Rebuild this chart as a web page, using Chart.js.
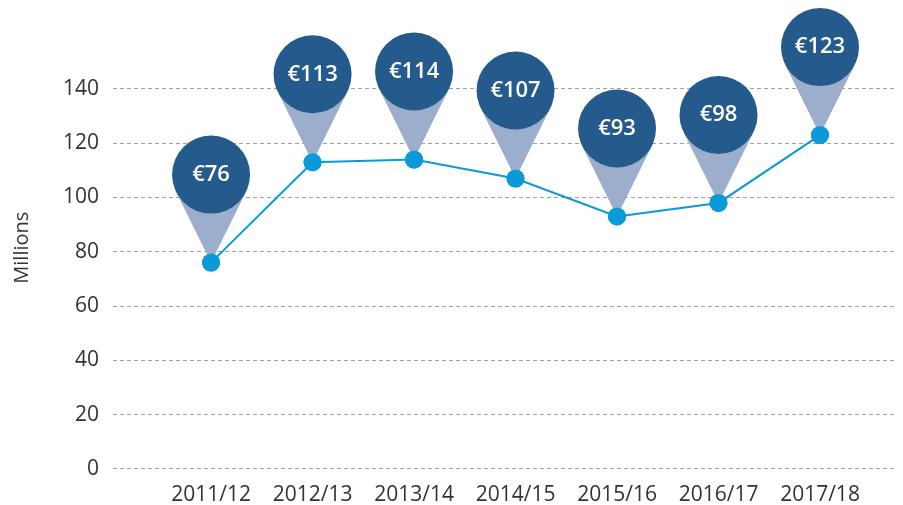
<!DOCTYPE html>
<html>
<head>
<meta charset="utf-8">
<script src="https://cdn.jsdelivr.net/npm/chart.js@4/dist/chart.umd.min.js"></script>
<style>
  html,body{margin:0;padding:0;background:#fff}
  .wrap{width:903px;height:505px;position:relative}
</style>
</head>
<body>
<div class="wrap"><canvas id="c1" role="img" aria-label="Values in millions, 2011/12 to 2017/18"></canvas></div>
<script>
const YEARS = ['2011/12','2012/13','2013/14','2014/15','2015/16','2016/17','2017/18']
const VALUES = [76,113,114,107,93,98,123]
const Y_TICKS = [0,20,40,60,80,100,120,140]

const lineC='#0a9ad9', bubC='#245a8c', coneC='#9caecb', tc='#333333'
const font="'Open Sans','Noto Sans',sans-serif"

// bubble with cone pointing to each point
const bubbles = {
  id:'bubbles',
  afterDatasetsDraw(chart){
    const {ctx} = chart
    const x = chart.scales.x, y = chart.scales.y
    const r = 39, off = 88
    VALUES.forEach((v,i)=>{
      const px = x.getPixelForValue(i), py = y.getPixelForValue(v)
      const cx = px, cy = py - off
      const th = Math.acos(r/off)
      ctx.save()
      ctx.fillStyle = coneC
      ctx.beginPath()
      ctx.moveTo(px,py)
      ctx.lineTo(cx + r*Math.sin(th), cy + r*Math.cos(th))
      ctx.lineTo(cx - r*Math.sin(th), cy + r*Math.cos(th))
      ctx.closePath()
      ctx.fill()
      ctx.fillStyle = bubC
      ctx.beginPath()
      ctx.arc(cx,cy,r,0,Math.PI*2)
      ctx.fill()
      ctx.fillStyle = '#fff'
      ctx.font = `600 22px ${font}`
      ctx.textAlign = 'center'
      ctx.textBaseline = 'middle'
      ctx.fillText('€'+v, cx, cy)
      // redraw the point on top of the cone
      ctx.fillStyle = lineC
      ctx.beginPath()
      ctx.arc(px,py,9,0,Math.PI*2)
      ctx.fill()
      ctx.restore()
    })
  }
}

new Chart(document.getElementById('c1'),{
  type:'line',
  data:{datasets:[{
    data:VALUES.map((v,i)=>({x:i,y:v})),
    borderColor:lineC, backgroundColor:lineC, borderWidth:2,
    pointRadius:9, pointBackgroundColor:lineC, pointBorderWidth:0, tension:0
  }]},
  options:{
    responsive:true, maintainAspectRatio:false, animation:false,
    layout:{padding:{left:4,right:3,top:0,bottom:-9}},
    plugins:{legend:{display:false},tooltip:{enabled:false}},
    scales:{
      x:{
        type:'linear', min:-0.966, max:6.729,
        afterBuildTicks:s=>{s.ticks=YEARS.map((_,i)=>({value:i}))},
        ticks:{color:tc,font:{family:font,size:21},padding:6,autoSkip:false,maxRotation:0,callback:v=>YEARS[v]},
        grid:{display:false}, border:{display:false}
      },
      y:{
        min:0, max:163,
        afterBuildTicks:s=>{s.ticks=Y_TICKS.map(v=>({value:v}))},
        ticks:{color:tc,font:{family:font,size:21},padding:14},
        grid:{color:'#a0a0a0',lineWidth:1,drawTicks:false},
        border:{display:false,dash:[4,3]},
        title:{display:true,text:'Millions',color:tc,font:{family:font,size:20},padding:{top:6,bottom:15}}
      }
    }
  },
  plugins:[bubbles]
})
</script>
</body>
</html>
